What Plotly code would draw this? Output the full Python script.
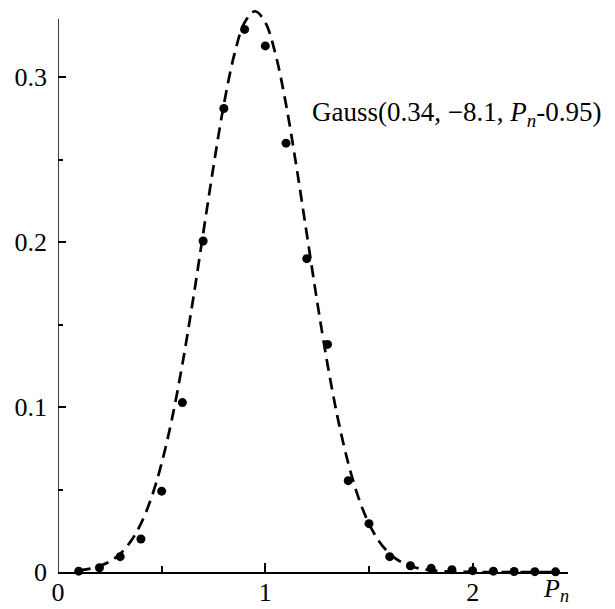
import plotly.graph_objects as go

# Measured points
pn_points = [0.1, 0.2, 0.3, 0.4, 0.5, 0.6, 0.7, 0.8, 0.9, 1.0, 1.1, 1.2,
             1.3, 1.4, 1.5, 1.6, 1.7, 1.8, 1.9, 2.0, 2.1, 2.2, 2.3, 2.4]
freq_points = [0.0005, 0.0026, 0.0093, 0.0200, 0.0490, 0.1027, 0.2007, 0.2810,
               0.3290, 0.3190, 0.2600, 0.1900, 0.1380, 0.0554, 0.0293, 0.0093,
               0.0038, 0.0022, 0.0014, 0.0008, 0.0005, 0.0003, 0.0002, 0.0001]

# Fitted curve
pn_curve = [0.10, 0.15, 0.20, 0.25, 0.30, 0.35, 0.40, 0.45, 0.50, 0.55, 0.60, 0.65,
            0.70, 0.75, 0.80, 0.85, 0.90, 0.95, 1.00, 1.05, 1.10, 1.15, 1.20, 1.25,
            1.30, 1.35, 1.40, 1.45, 1.50, 1.55, 1.60, 1.65, 1.70, 1.75, 1.80, 1.85,
            1.90, 1.95, 2.00, 2.05, 2.10, 2.15, 2.20, 2.25, 2.30, 2.35, 2.40]
freq_curve = [0.0010, 0.0019, 0.0036, 0.0064, 0.0111, 0.0184, 0.0293, 0.0449,
              0.0660, 0.0930, 0.1260, 0.1640, 0.2050, 0.2459, 0.2834, 0.3135,
              0.3332, 0.3400, 0.3332, 0.3135, 0.2834, 0.2459, 0.2050, 0.1640,
              0.1260, 0.0930, 0.0660, 0.0449, 0.0293, 0.0184, 0.0111, 0.0064,
              0.0036, 0.0019, 0.0010, 0.0005, 0.0002, 0.0001, 0.0000, 0.0000,
              0.0000, 0.0000, 0.0000, 0.0000, 0.0000, 0.0000, 0.0000]

x_tickvals = [0, 1, 2]
x_ticktext = ["0", "1", "2"]
y_tickvals = [0, 0.1, 0.2, 0.3]
y_ticktext = ["0", "0.1", "0.2", "0.3"]

fit_label = "Gauss(0.34, \u22128.1, <i>P<sub>n</sub></i>-0.95)"
x_label = "<i>P<sub>n</sub></i>"

FONT = "Liberation Serif"

fig = go.Figure()
fig.add_trace(go.Scatter(
    x=pn_curve, y=freq_curve, mode="lines",
    line=dict(color="black", width=2.7, dash="12px,7px", shape="spline"),
    hoverinfo="skip", showlegend=False,
))
fig.add_trace(go.Scatter(
    x=pn_points, y=freq_points, mode="markers",
    marker=dict(color="black", size=9),
    cliponaxis=False, showlegend=False,
))

fig.update_layout(
    width=615, height=609,
    margin=dict(l=58, r=47, t=3, b=37, autoexpand=False),
    plot_bgcolor="white", paper_bgcolor="white",
    font=dict(family=FONT, size=26, color="black"),
    xaxis=dict(
        range=[0, 2.46], showgrid=False, zeroline=False, automargin=False,
        showline=True, linecolor="black", linewidth=1.5,
        tickmode="array", tickvals=x_tickvals, ticktext=x_ticktext,
        ticks="inside", ticklen=9, tickwidth=1.5, tickcolor="black",
        minor=dict(tickmode="array", tickvals=[0.5, 1.5], ticks="inside",
                   ticklen=6, tickwidth=1.5, tickcolor="black"),
        tickfont=dict(family=FONT, size=26, color="black"),
        ticklabelstandoff=-4,
    ),
    yaxis=dict(
        range=[0, 0.345], showgrid=False, zeroline=False, automargin=False,
        showline=False,
        tickmode="array", tickvals=y_tickvals, ticktext=y_ticktext,
        ticks="inside", ticklen=8, tickwidth=1.5, tickcolor="black",
        minor=dict(tickmode="array", tickvals=[0.05, 0.15, 0.25], ticks="inside",
                   ticklen=5, tickwidth=1.5, tickcolor="black"),
        tickfont=dict(family=FONT, size=26, color="black"),
        ticklabelstandoff=10,
    ),
)

# y axis line (ends just below the curve peak)
fig.add_shape(type="line", xref="x", yref="y", x0=0, x1=0, y0=0, y1=0.3354,
              line=dict(color="black", width=1.5), layer="above")

fig.add_annotation(x=1.215, y=0.278, xref="x", yref="y", text=fit_label,
                   showarrow=False, xanchor="left", yanchor="middle",
                   font=dict(family=FONT, size=27, color="black"))
fig.add_annotation(x=2.4, y=0, xref="x", yref="paper", text=x_label,
                   showarrow=False, xanchor="center", yanchor="top", yshift=0,
                   font=dict(family=FONT, size=26, color="black"))

fig.write_html("out.html", config={"displayModeBar": False},
               post_script="document.body.style.margin='0';document.body.style.padding='0';")
